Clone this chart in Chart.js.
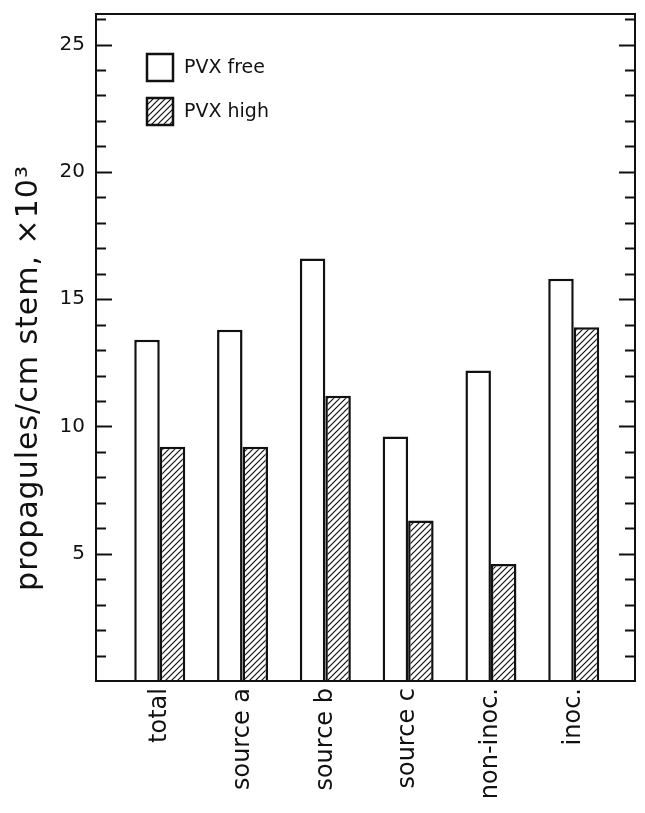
<!DOCTYPE html>
<html>
<head>
<meta charset="utf-8">
<script src="https://cdn.jsdelivr.net/npm/chart.js@4.4.1/dist/chart.umd.min.js"></script>
<style>
  html, body { margin: 0; padding: 0; background: #fff; }
  #wrap { width: 645px; height: 813px; position: relative; }
</style>
</head>
<body>
<div id="wrap"><canvas id="myChart"></canvas></div>
<script>
const categories = ['total', 'source a', 'source b', 'source c', 'non-inoc.', 'inoc.'];
const pvxFree = [13.4, 13.8, 16.6, 9.6, 12.2, 15.8];
const pvxHigh = [9.2, 9.2, 11.2, 6.3, 4.6, 13.9];
const yTickLabels = [5, 10, 15, 20, 25];
const seriesNames = ['PVX free', 'PVX high'];
const yTitle = 'propagules/cm stem, \u00d710\u00b3';

const FONT = "'DejaVu Sans', 'Liberation Sans', Arial, sans-serif";

// diagonal hatch
function makeHatch() {
    var c = document.createElement('canvas');
    c.width = 6; c.height = 6;
    var g = c.getContext('2d');
    g.fillStyle = '#fff';
    g.fillRect(0, 0, 6, 6);
    g.strokeStyle = '#111';
    g.lineWidth = 1.2;
    g.beginPath();
    g.moveTo(0, 6); g.lineTo(6, 0);
    g.moveTo(-1, 1); g.lineTo(1, -1);
    g.moveTo(5, 7); g.lineTo(7, 5);
    g.stroke();
    return g.createPattern(c, 'repeat');
}
const hatch = makeHatch();

const ctx = document.getElementById('myChart');

// frame, inward ticks, legend and y title
const decorations = {
    id: 'decorations',
    afterDraw(chart) {
        const c = chart.ctx;
        const a = chart.chartArea;
        const y = chart.scales.y;
        c.save();
        c.strokeStyle = '#111';
        c.lineWidth = 2;
        c.strokeRect(a.left, a.top, a.right - a.left, a.bottom - a.top);

        c.lineWidth = 1.8;
        c.beginPath();
        for (var v = 1; v <= Math.floor(y.max); v++) {
            var py = Math.round(y.getPixelForValue(v)) + 0.5;
            var len = (v % 5 === 0) ? 16 : 10;
            c.moveTo(a.left, py); c.lineTo(a.left + len, py);
            c.moveTo(a.right, py); c.lineTo(a.right - len, py);
        }
        c.stroke();

        // legend
        var fills = ['#fff', hatch];
        c.font = '19px ' + FONT;
        c.textBaseline = 'middle';
        c.textAlign = 'left';
        for (var i = 0; i < seriesNames.length; i++) {
            var bx = a.left + 51, by = a.top + 40 + i * 44;
            c.fillStyle = fills[i];
            c.fillRect(bx, by, 26, 27);
            c.lineWidth = 2.5;
            c.strokeRect(bx, by, 26, 27);
            c.fillStyle = '#111';
            c.fillText(seriesNames[i], bx + 37, by + 14);
        }

        // y title
        c.translate(29, 378);
        c.rotate(-Math.PI / 2);
        c.textAlign = 'center';
        c.font = '30px ' + FONT;
        c.letterSpacing = '1px';
        c.fillText(yTitle, 0, 0);
        c.restore();
    }
};

const data = {
    datasets: [{
        label: seriesNames[0],
        data: pvxFree.map((v, i) => ({ x: i, y: v })),
        backgroundColor: '#fff',
        borderColor: '#111',
        borderWidth: 2.5,
    }, {
        label: seriesNames[1],
        data: pvxHigh.map((v, i) => ({ x: i, y: v })),
        backgroundColor: hatch,
        borderColor: '#111',
        borderWidth: 2.5,
    }],
};

const config = {
    type: 'bar',
    data: data,
    options: {
        responsive: true,
        maintainAspectRatio: false,
        animation: false,
        categoryPercentage: 0.616,
        barPercentage: 1,
        layout: { padding: { left: 0, right: 10, top: 14, bottom: 0 } },
        plugins: {
            legend: { display: false },
            tooltip: { enabled: false },
        },
        scales: {
            x: {
                type: 'linear',
                offset: false,
                min: -0.77,
                max: 5.74,
                grid: { display: false, drawTicks: false },
                border: { display: false },
                afterBuildTicks: s => { s.ticks = categories.map((c, i) => ({ value: i })); },
                afterFit: s => { s.height = 132; s.paddingTop = 0; s.paddingBottom = 0; },
                ticks: {
                    autoSkip: false,
                    minRotation: 90,
                    maxRotation: 90,
                    padding: 7,
                    color: '#111',
                    font: { family: FONT, size: 24 },
                    callback: v => categories[v],
                },
            },
            y: {
                min: 0,
                max: 26.2,
                grid: { display: false, drawTicks: false },
                border: { display: false },
                afterBuildTicks: s => { s.ticks = yTickLabels.map(v => ({ value: v })); },
                afterFit: s => { s.width = 96; s.paddingTop = 0; s.paddingBottom = 0; },
                ticks: {
                    padding: 11,
                    color: '#111',
                    font: { family: FONT, size: 20 },
                },
            },
        },
    },
    plugins: [decorations],
};

const myChart = new Chart(ctx, config);
</script>
</body>
</html>
